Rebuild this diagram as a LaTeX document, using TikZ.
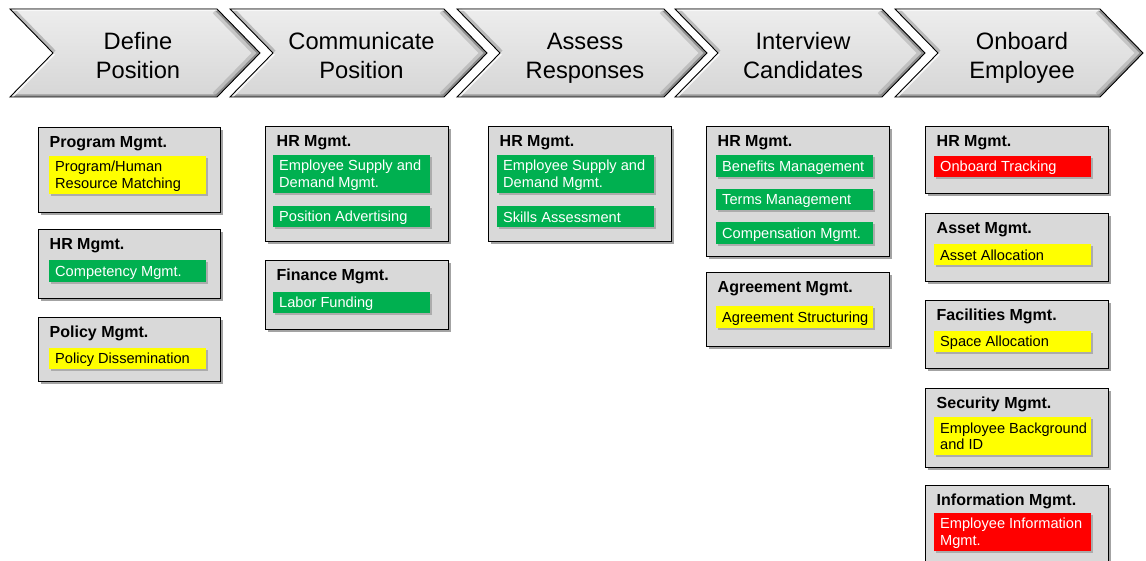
\documentclass[tikz,border=0pt]{standalone}
\usepackage{fontspec}
\setmainfont{Liberation Sans}
\usetikzlibrary{shadows}
\definecolor{bargreen}{HTML}{00B050}
\definecolor{baryellow}{HTML}{FFFF00}
\definecolor{barred}{HTML}{FF0000}
\definecolor{boxgray}{HTML}{D9D9D9}
\newcommand\bs{\rule[-2pt]{0pt}{15pt}}
\newcommand\cs{\rule[-5pt]{0pt}{25pt}}
\tikzset{
  grpbox/.style={draw=black, line width=1.4pt, fill=boxgray, inner sep=0pt, anchor=north west,
    minimum width=183pt,
    drop shadow={shadow xshift=2.5pt, shadow yshift=-2.5pt, fill=black!45, opacity=0.8}},
  grphead/.style={anchor=base west, inner sep=0pt, font=\fontsize{16}{19}\selectfont\bfseries},
  barbox/.style={inner sep=0pt, anchor=north west, minimum width=157pt,
    drop shadow={shadow xshift=1.5pt, shadow yshift=-1.5pt, fill=black!40, opacity=0.7}},
  bartext/.style={anchor=west, inner sep=0pt, align=left, font=\fontsize{14.6}{16.5}\selectfont},
  chevtext/.style={align=center, inner sep=0pt, font=\fontsize{23.7}{28.5}\selectfont},
}
\newcommand\grp[6]{%
  \node[grpbox, minimum width=#4pt, minimum height=#5pt] (#1) at (#2,#3) {};
  \node[grphead] (#1h) at ([xshift=11.5pt, yshift=-20.5pt]#1.north west) {#6};
}
\newcommand\cbar[7]{%
  \node[barbox, fill=#5, minimum height=#4pt] (#1) at (#2,#3) {};
  \node[bartext, text=#6] (#1t) at ([xshift=6pt]#1.west) {#7};
}
\newcommand\chev[4]{%
  \fill[top color=gray!14, middle color=gray!5, bottom color=gray!32]
    (#1,9) -- (#2-43,9) -- (#2,53) -- (#2-43,97) -- (#1,97) -- (#1+43,53) -- cycle;
  \begin{scope}
    \clip (#1,9) -- (#2-43,9) -- (#2,53) -- (#2-43,97) -- (#1,97) -- (#1+43,53) -- cycle;
    \draw[black!60, line width=12pt, opacity=0.25] (#2-43,9) -- (#2,53) -- (#2-43,97);
    \draw[black!70, line width=5pt, opacity=0.45] (#2-43,9) -- (#2,53) -- (#2-43,97) -- (#1,97);
    \draw[black!60, line width=7pt, opacity=0.35] (#1,9) -- (#1+43,53);
    \draw[white, line width=5pt, opacity=0.8] (#1+43,53) -- (#1,97);
    \draw[white, line width=4pt, opacity=0.7] (#1,9) -- (#2-43,9);
  \end{scope}
  \draw[black, line width=0.9pt, line join=miter]
    (#1,9) -- (#2-43,9) -- (#2,53) -- (#2-43,97) -- (#1,97) -- (#1+43,53) -- cycle;
  \node[chevtext] (#3) at ({(#1+#2)/2+3}, 56.75) {#4};
}
\begin{document}
\begin{tikzpicture}[x=1pt, y=-1pt]
\fill[white] (0,0) rectangle (1146,561);
\useasboundingbox (0,0) rectangle (1146,561);

% chevrons
\chev{10}{260}{ch1}{\cs Define\\\cs Position}
\chev{230}{487}{ch2}{\cs Communicate\\\cs Position}
\chev{457}{707}{ch3}{\cs Assess\\\cs Responses}
\chev{675}{925}{ch4}{\cs Interview\\\cs Candidates}
\chev{895}{1143}{ch5}{\cs Onboard\\\cs Employee}

% column 1
\grp{c1a}{38}{127}{182}{85}{Program Mgmt.}
\cbar{b1a}{49}{156}{38}{baryellow}{black}{\bs Program/Human\\\bs Resource Matching}
\grp{c1b}{38}{229}{182}{69}{HR Mgmt.}
\cbar{b1b}{49}{260}{22}{bargreen}{white}{\bs Competency Mgmt.}
\grp{c1c}{38}{317}{182}{64}{Policy Mgmt.}
\cbar{b1c}{49}{348}{21}{baryellow}{black}{\bs Policy Dissemination}

% column 2
\grp{c2a}{265}{126}{183}{115}{HR Mgmt.}
\cbar{b2a}{273}{155}{38}{bargreen}{white}{\bs Employee Supply and\\\bs Demand Mgmt.}
\cbar{b2b}{273}{206}{21}{bargreen}{white}{\bs Position Advertising}
\grp{c2b}{265}{260}{183}{69}{Finance Mgmt.}
\cbar{b2c}{273}{292}{21}{bargreen}{white}{\bs Labor Funding}

% column 3
\grp{c3a}{488}{126}{183}{115}{HR Mgmt.}
\cbar{b3a}{497}{155}{38}{bargreen}{white}{\bs Employee Supply and\\\bs Demand Mgmt.}
\cbar{b3b}{497}{206}{21}{bargreen}{white}{\bs Skills Assessment}

% column 4
\grp{c4a}{706}{126}{183}{130}{HR Mgmt.}
\cbar{b4a}{716}{155}{22}{bargreen}{white}{\bs Benefits Management}
\cbar{b4b}{716}{189}{21}{bargreen}{white}{\bs Terms Management}
\cbar{b4c}{716}{222}{22}{bargreen}{white}{\bs Compensation Mgmt.}
\grp{c4b}{706}{272}{183}{74}{Agreement Mgmt.}
\cbar{b4d}{716}{306}{22}{baryellow}{black}{\bs Agreement Structuring}

% column 5
\grp{c5a}{925}{126}{183}{67}{HR Mgmt.}
\cbar{b5a}{934}{156}{21}{barred}{white}{\bs Onboard Tracking}
\grp{c5b}{925}{213}{183}{68}{Asset Mgmt.}
\cbar{b5b}{934}{244}{21}{baryellow}{black}{\bs Asset Allocation}
\grp{c5c}{925}{300}{183}{68}{Facilities Mgmt.}
\cbar{b5c}{934}{331}{21}{baryellow}{black}{\bs Space Allocation}
\grp{c5d}{925}{388}{183}{79}{Security Mgmt.}
\cbar{b5d}{934}{417}{38}{baryellow}{black}{\bs Employee Background\\\bs and ID}
\grp{c5e}{925}{485}{183}{90}{Information Mgmt.}
\cbar{b5e}{934}{513}{38}{barred}{white}{\bs Employee Information\\\bs Mgmt.}
\end{tikzpicture}
\end{document}
